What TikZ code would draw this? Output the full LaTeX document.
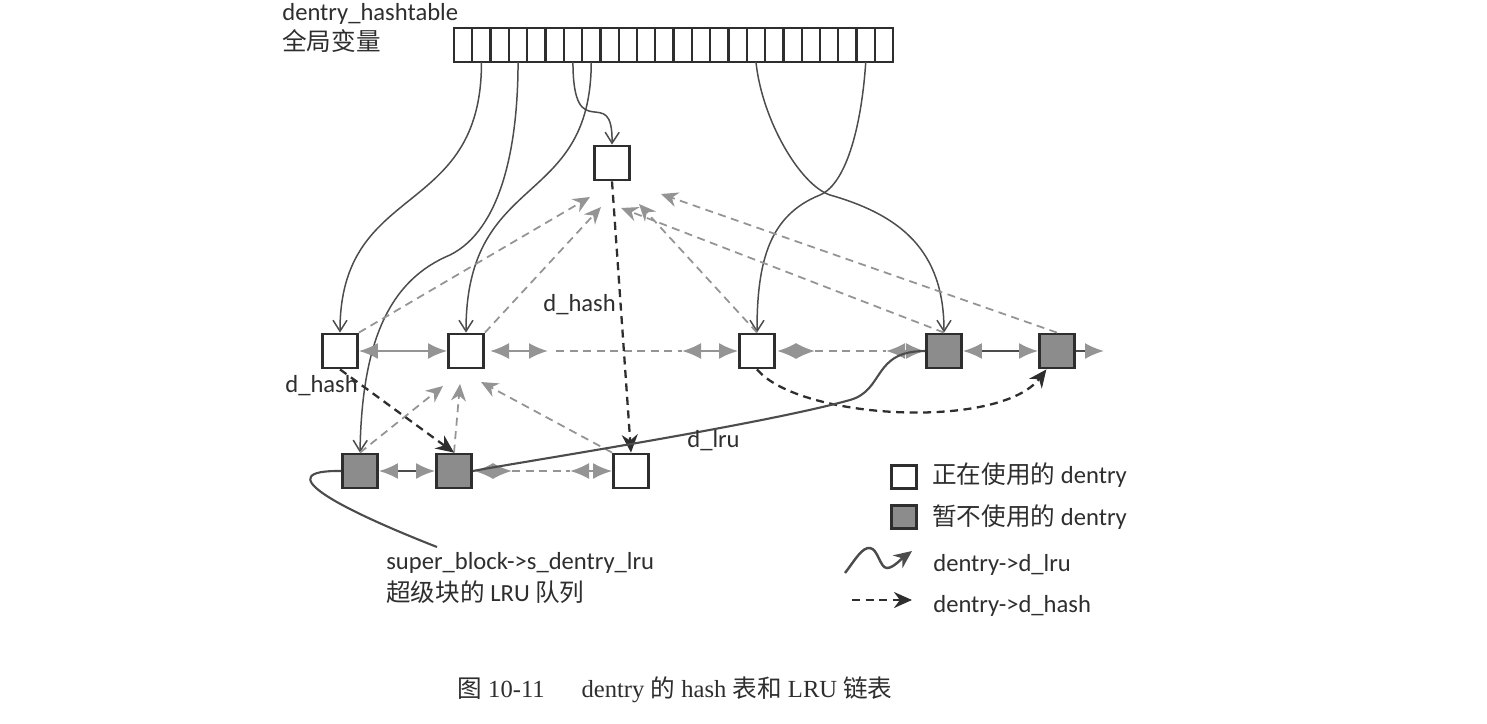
\documentclass[tikz,border=0pt]{standalone}
\usepackage{fontspec}
\setmainfont{Carlito}
\newfontfamily\cjk{Noto Sans CJK SC}
\newfontfamily\capfont{Liberation Serif}
\usepackage{tikz}
\usetikzlibrary{arrows.meta,positioning,calc}

\definecolor{dk}{gray}{0.18}
\definecolor{ln}{gray}{0.3}
\definecolor{lg}{gray}{0.58}
\definecolor{bx}{gray}{0.55}

\tikzset{
  used/.style={draw=dk, line width=1.6pt, fill=white, minimum width=0.7cm, minimum height=0.68cm, inner sep=0pt},
  unused/.style={used, fill=bx},
  cell/.style={draw=dk, line width=1.3pt, minimum width=0.366cm, minimum height=0.68cm, inner sep=0pt, outer sep=0pt},
  lbl/.style={inner sep=0pt, text=dk, font=\fontsize{14}{17}\selectfont},
  hashptr/.style={ln, line width=0.85pt, -{Straight Barb[length=2.2mm,width=2.8mm]}},
  dhash/.style={dk, line width=1.3pt, dash pattern=on 1.6mm off 1.1mm, -{Stealth[length=3.6mm,width=3.2mm]}},
  dpar/.style={lg, line width=1pt, dash pattern=on 1.6mm off 1.1mm, -{Stealth[length=3.4mm,width=3mm]}},
  elide/.style={lg, line width=1pt, dash pattern=on 1.6mm off 1.1mm},
  sib/.style={lg, line width=1.2pt, {Latex[length=3.8mm,width=3.2mm]}-{Latex[length=3.8mm,width=3.2mm]}},
  lrusib/.style={ln, line width=1.2pt, {Latex[length=3.8mm,width=3.2mm,color=lg]}-{Latex[length=3.8mm,width=3.2mm,color=lg]}},
  lrunext/.style={ln, line width=1.2pt, -{Latex[length=3.8mm,width=3.2mm,color=lg]}},
  lru/.style={ln, line width=1.2pt},
}

\begin{document}
\begin{tikzpicture}[x=0.2mm, y=-0.2mm, >=Latex]
  \useasboundingbox (0,0) rectangle (1487,724);
  % общие параметры
  \def\cw{18.3} % ширина ячейки

  % хеш-таблица
  \foreach \i in {1,...,24}
    \node[cell] (c\i) at ({454+\cw*(\i-0.5)},45) {};
  \node[lbl, anchor=base west] (ht1) at (282,20) {dentry\_hashtable};
  \node[lbl, anchor=base west] (ht2) at (282,50) {\cjk 全局变量};

  % dentry
  \node[used]   (T) at (612,163) {};
  \node[used]   (A) at (340,351) {};
  \node[used]   (B) at (466,351) {};
  \node[used]   (C) at (757,351) {};
  \node[unused] (D) at (944,351) {};
  \node[unused] (E) at (1057,351) {};
  \node[unused] (F) at (360,471) {};
  \node[unused] (G) at (454,471) {};
  \node[used]   (H) at (631,471) {};

  % из таблицы
  \draw[hashptr] (c2.south) .. controls (482,220) and (340,180) .. (A.north);
  \draw[hashptr] (c4.south) .. controls (518,150) and (500,230) .. (450,255)
                            .. controls (390,280) and (362,340) .. (F.north);
  \draw[hashptr] (c7.south) .. controls (573,150) and (613,80) .. (T.north);
  \draw[hashptr] (c8.south) .. controls (591,210) and (466,170) .. (B.north);
  \draw[hashptr] (c17.south) .. controls (762,120) and (800,185) .. (830,195)
                             .. controls (900,215) and (944,250) .. (D.north);
  \draw[hashptr] (c23.south) .. controls (862,120) and (848,183) .. (820,195)
                             .. controls (770,215) and (757,260) .. (C.north);

  % к родителю
  \coordinate (pA) at (590,197);
  \coordinate (pB) at (601,207);
  \coordinate (pD) at (621,208);
  \coordinate (pC) at (639,204);
  \coordinate (pE) at (661,194);
  \draw[dpar] (A.north east) -- (pA);
  \draw[dpar] (B.north east) -- (pB);
  \draw[dpar] (C.north) -- (pC);
  \draw[dpar] (D.north) -- (pD);
  \draw[dpar] (E.north) -- (pE);
  \coordinate (qF) at (443,386);
  \coordinate (qG) at (460,384);
  \coordinate (qH) at (481,382);
  \draw[dpar] (F.north) -- (qF);
  \draw[dpar] (G.north) -- (qG);
  \draw[dpar] (H.north west) -- (qH);

  % списки
  \coordinate (r1) at (490,351);
  \coordinate (r2) at (548,351);
  \coordinate (r3) at (556,351);
  \coordinate (r4) at (682,351);
  \coordinate (r5) at (777,351);
  \coordinate (r6) at (815,351);
  \coordinate (r7) at (886,351);
  \coordinate (r8) at (1104,351);
  \draw[sib] (A) -- (B);
  \draw[sib] (r1) -- (r2);
  \draw[elide] (r3) -- (r4);
  \draw[sib] (r4) -- (C);
  \draw[sib] (r5) -- (r6);
  \draw[elide] (r6) -- (r7);
  \draw[sib] (r7) -- (D);
  \draw[lrusib] (D) -- (E);
  \draw[lrunext] (E) -- (r8);
  \coordinate (s1) at (474,471);
  \coordinate (s2) at (512,471);
  \coordinate (s3) at (570,471);
  \draw[lrusib] (F) -- (G);
  \draw[sib] (s1) -- (s2);
  \draw[elide] (s2) -- (s3);
  \draw[sib] (s3) -- (H);

  % d_hash
  \draw[dhash] (T.south) -- (H.north);
  \draw[dhash] (A.south) -- (G.north);
  \draw[dhash] (C.south) .. controls (800,420) and (1000,430) .. (E.-120);
  \node[lbl, anchor=base west] (dh1) at (285,392) {d\_hash};
  \node[lbl, anchor=base west] (dh2) at (543,311) {d\_hash};

  % d_lru
  \coordinate (lru0) at (437,547);
  \draw[lru] (lru0) .. controls (330,505) and (270,470) .. (F.west);
  \draw[lru] (G.east) .. controls (520,462) and (760,425) .. (850,400)
                      .. controls (885,390) and (872,351) .. (D.west);
  \node[lbl, anchor=base west] (dl) at (687,447) {d\_lru};
  \node[lbl, anchor=base west] (sb1) at (386,569) {super\_block->s\_dentry\_lru};
  \node[lbl, anchor=base west] (sb2) at (386,601) {{\cjk 超级块的} LRU {\cjk 队列}};

  % легенда
  \node[used, minimum width=0.5cm, minimum height=0.46cm] (k1) at (904,477) {};
  \node[unused, minimum width=0.5cm, minimum height=0.46cm] (k2) at (904,517) {};
  \node[lbl, anchor=base west] (k1t) at (932,483) {{\cjk 正在使用的} dentry};
  \node[lbl, anchor=base west] (k2t) at (932,525) {{\cjk 暂不使用的} dentry};
  \coordinate (w0) at (845,573);
  \coordinate (w1) at (912,551);
  \draw[lru, line width=1.4pt, -{Stealth[length=3.6mm,width=3.2mm]}] (w0)
    .. controls (855,560) and (862,547) .. (870,548)
    .. controls (878,549) and (880,568) .. (887,568)
    .. controls (893,568) and (900,560) .. (w1);
  \node[lbl, anchor=base west] (k3t) at (933,571) {dentry->d\_lru};
  \coordinate (h0) at (852,600);
  \coordinate (h1) at (912,600);
  \draw[dhash] (h0) -- (h1);
  \node[lbl, anchor=base west] (k4t) at (933,612) {dentry->d\_hash};

  % подпись
  \node[inner sep=0pt, anchor=base, text=dk, font=\capfont\fontsize{14}{17}\selectfont] (cap) at (675,697)
    {{\cjk 图} 10-11\hspace{1.5em}dentry {\cjk 的} hash {\cjk 表和} LRU {\cjk 链表}};
\end{tikzpicture}
\end{document}
